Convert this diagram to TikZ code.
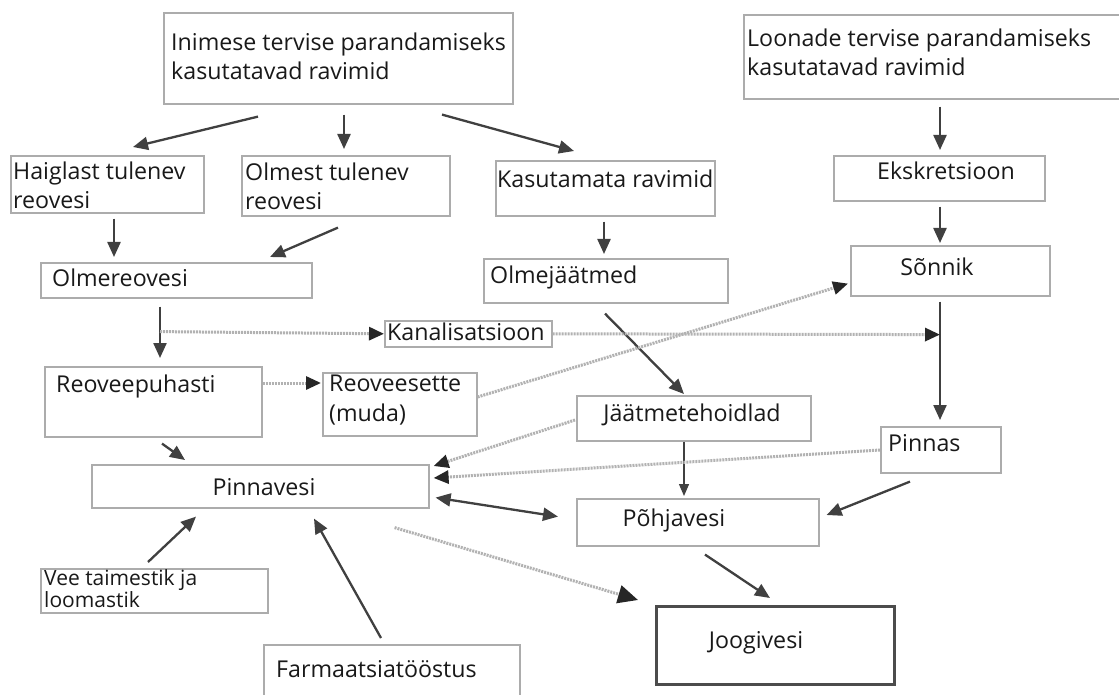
\documentclass[tikz,border=0pt]{standalone}
\usepackage{fontspec}
\setmainfont{Open Sans}
\usetikzlibrary{arrows.meta,calc}
\newcommand{\lbfont}{\fontsize{23.2}{29.5}\selectfont}
\newcommand{\smfont}{\fontsize{21}{22}\selectfont}
\tikzset{
  box/.style={draw=gray!65, line width=1.6pt, inner sep=0pt, anchor=north west},
  lbl/.style={inner sep=0pt, anchor=base west, text=black!90, font=\lbfont, align=left},
  clbl/.style={lbl, anchor=base},
  arr/.style={draw=black!75, line width=2.3pt, -{Triangle[length=15pt,width=13pt]}},
  thinarr/.style={draw=black!75, line width=1.3pt, -{Triangle[length=12pt,width=10pt]}},
  darr/.style={draw=gray!60, line width=3pt, dash pattern=on 2pt off 1pt, -{Triangle[length=15pt,width=13pt,color=black!85]}},
}
\begin{document}
\begin{tikzpicture}[x=1pt,y=-1pt]
\useasboundingbox[fill=white] (0,0) rectangle (1119,695);
% boxes
\node[box, minimum width=349pt, minimum height=91pt] (inimese) at (163,12) {};
\node[box, minimum width=380pt, minimum height=84pt] (loonade) at (743,14) {};
\node[box, minimum width=193pt, minimum height=57pt] (haiglast) at (10,155) {};
\node[box, minimum width=208pt, minimum height=60pt] (olmest) at (241,155) {};
\node[box, minimum width=219pt, minimum height=55pt] (kasut) at (495,160) {};
\node[box, minimum width=211pt, minimum height=45pt] (ekskr) at (833,155) {};
\node[box, minimum width=271pt, minimum height=35pt] (olmerv) at (40,262) {};
\node[box, minimum width=244pt, minimum height=44pt] (olmej) at (483,258) {};
\node[box, minimum width=199pt, minimum height=50pt] (sonnik) at (850,245) {};
\node[box, minimum width=167pt, minimum height=26pt] (kanal) at (384,320) {};
\node[box, minimum width=217pt, minimum height=70pt] (reovee) at (44,366) {};
\node[box, minimum width=154pt, minimum height=63pt] (sette) at (322,372) {};
\node[box, minimum width=234pt, minimum height=45pt] (jaatme) at (576,395) {};
\node[box, minimum width=120pt, minimum height=46pt] (pinnas) at (880,426) {};
\node[box, minimum width=337pt, minimum height=43pt] (pinnavesi) at (91,464) {};
\node[box, minimum width=242pt, minimum height=47pt] (pohja) at (576,498) {};
\node[box, minimum width=227pt, minimum height=44pt] (vee) at (40,568) {};
\node[box, minimum width=256pt, minimum height=60pt] (farm) at (263,644) {};
\node[box, draw=black!70, line width=2.6pt, minimum width=238pt, minimum height=78pt] (joogi) at (655,605) {};
% labels (multi-line: position is the baseline of the last line)
\node[lbl] (t1) at (171,80) {Inimese tervise parandamiseks\\kasutatavad ravimid};
\node[lbl] (t2) at (747,76) {Loonade tervise parandamiseks\\kasutatavad ravimid};
\node[lbl] (t3) at (13,209) {Haiglast tulenev\\reovesi};
\node[lbl] (t4) at (245,210) {Olmest tulenev\\reovesi};
\node[lbl] (t5) at (497,188) {Kasutamata ravimid};
\node[clbl] (t6) at (946,180) {Ekskretsioon};
\node[lbl] (t7) at (52,286) {Olmereovesi};
\node[lbl] (t8) at (490,283) {Olmejäätmed};
\node[clbl] (t9) at (937,276) {Sõnnik};
\node[lbl] (t10) at (387,340) {Kanalisatsioon};
\node[lbl] (t11) at (56,392) {Reoveepuhasti};
\node[lbl] (t12) at (329,421) {Reoveesette\\(muda)};
\node[clbl] (t13) at (692,421) {Jäätmetehoidlad};
\node[lbl] (t14) at (888,451) {Pinnas};
\node[clbl] (t15) at (264,495) {Pinnavesi};
\node[clbl] (t16) at (674,526) {Põhjavesi};
\node[lbl, font=\smfont] (t17) at (44,607) {Vee taimestik ja\\loomastik};
\node[lbl] (t18) at (276,677) {Farmaatsiatööstus};
\node[clbl] (t19) at (756,648) {Joogivesi};
% helper points on lines
\coordinate (k1) at ($(olmerv.south west)+(120,33)$);
\coordinate (k2) at ($(sonnik.south west)+(90,38)$);
% solid arrows
\draw[arr] ($(inimese.south west)+(95,12)$) -- ($(haiglast.north west)+(123,-8)$);
\draw[arr] ($(inimese.south west)+(181,10)$) -- ($(olmest.north west)+(103,-6)$);
\draw[arr] ($(inimese.south west)+(279,10)$) -- ($(kasut.north west)+(79,-9)$);
\draw[arr] ($(loonade.south west)+(197,7)$) -- ($(ekskr.north west)+(107,-5)$);
\draw[arr] ($(haiglast.south west)+(104,5)$) -- ($(olmerv.north west)+(74,-5)$);
\draw[arr] ($(olmest.south west)+(97,11)$) -- ($(olmerv.north west)+(230,-5)$);
\draw[arr] ($(kasut.south west)+(109,5)$) -- ($(olmej.north west)+(121,-4)$);
\draw[arr] ($(ekskr.south west)+(107,5)$) -- ($(sonnik.north west)+(90,-2)$);
\draw[arr] ($(olmerv.south west)+(120,8)$) -- ($(reovee.north west)+(116,-8)$);
\draw[arr] ($(sonnik.south west)+(90,5)$) -- ($(pinnas.north west)+(60,-6)$);
\draw[arr] ($(olmej.south west)+(122,10)$) -- ($(jaatme.north west)+(108,-1)$);
\draw[arr] ($(reovee.south west)+(118,6)$) -- ($(pinnavesi.north west)+(94,-4)$);
\draw[thinarr] ($(jaatme.south west)+(108,0)$) -- ($(pohja.north west)+(108,-2)$);
\draw[arr, {Triangle[length=15pt,width=13pt]}-{Triangle[length=15pt,width=13pt]}] ($(pinnavesi.south east)+(6,-11)$) -- ($(pohja.south west)+(-18,-30)$);
\draw[arr] ($(pinnas.south west)+(30,8)$) -- ($(pohja.north east)+(7,17)$);
\draw[arr] ($(pohja.south west)+(129,8)$) -- ($(joogi.north west)+(115,-7)$);
\draw[arr] ($(vee.north west)+(108,-6)$) -- ($(pinnavesi.south west)+(105,8)$);
\draw[arr] ($(farm.north west)+(118,-6)$) -- ($(pinnavesi.south west)+(223,10)$);
% dotted arrows
\draw[darr] (k1) -- (kanal.west);
\draw[darr] (kanal.east) -- (k2);
\draw[darr] ($(reovee.north east)+(0,17)$) -- ($(sette.north west)+(-1,11)$);
\draw[darr] ($(sette.north east)+(0,25)$) -- ($(sonnik.south west)+(-2,-13)$);
\draw[darr] ($(jaatme.north west)+(-1,25)$) -- ($(pinnavesi.north east)+(4,2)$);
\draw[darr] ($(pinnas.north west)+(0,24)$) -- ($(pinnavesi.north east)+(4,14)$);
\draw[darr, -{Triangle[length=20pt,width=18pt,color=black!85]}] ($(pinnavesi.south east)+(-35,19)$) -- ($(joogi.north west)+(-17,-5)$);
\end{tikzpicture}
\end{document}
